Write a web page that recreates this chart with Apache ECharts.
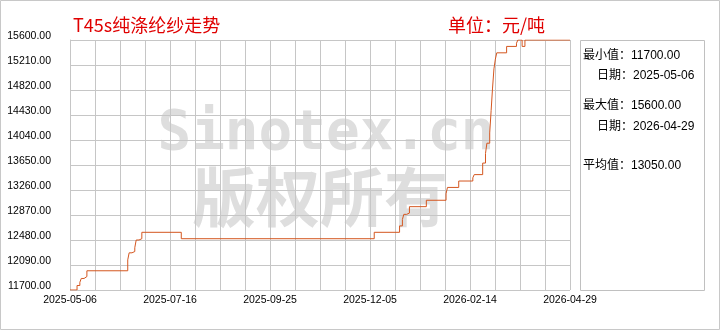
<!DOCTYPE html>
<html><head><meta charset="utf-8">
<script src="https://cdn.jsdelivr.net/npm/echarts@6/dist/echarts.min.js"></script>
<style>html,body{margin:0;padding:0;background:#fff}#c{width:720px;height:330px}</style>
</head><body><div id="c"></div>
<script>
const titleText = 'T45s纯涤纶纱走势';
const unitText = '单位：元/吨';
const startDate = '2025-05-06';
const endDate = '2026-04-29';
const skippedDates = ['2026-02-16', '2026-02-17', '2026-02-18'];
const xLabelDates = ['2025-05-06', '2025-07-16', '2025-09-25', '2025-12-05', '2026-02-14', '2026-04-29'];
const yMin = 11700, yMax = 15600, yStep = 390;
// price change points (date, value in 元/吨)
const changeDates = [
  '2025-05-06', '2025-05-11', '2025-05-13', '2025-05-14', '2025-05-16', '2025-05-18',
  '2025-06-16', '2025-06-17', '2025-06-19', '2025-06-21', '2025-06-22', '2025-06-24', '2025-06-26',
  '2025-07-24',
  '2025-12-08', '2025-12-26', '2025-12-28', '2025-12-29', '2025-12-31', '2026-01-02',
  '2026-01-14', '2026-01-28', '2026-01-29', '2026-02-06', '2026-02-19', '2026-02-20',
  '2026-02-26', '2026-02-28', '2026-03-01', '2026-03-03', '2026-03-04', '2026-03-05', '2026-03-06', '2026-03-07', '2026-03-08',
  '2026-03-15', '2026-03-22', '2026-03-23', '2026-03-26', '2026-03-28', '2026-04-29'
];
const changeValues = [
  11700, 11770, 11820, 11880, 11910, 12000,
  12170, 12280, 12300, 12360, 12480, 12500, 12600,
  12500,
  12600, 12700, 12800, 12880, 12900, 13000,
  13100, 13200, 13300, 13400, 13450, 13500,
  13680, 13830, 13990, 14150, 14500, 14850, 15150, 15300, 15400,
  15500, 15550, 15600, 15500, 15600, 15600
];
const statLines = ['最小值：11700.00', '日期：2025-05-06', '最大值：15600.00', '日期：2026-04-29', '平均值：13050.00'];
const watermarkLatin = 'Sinotex.cn';
const watermarkCJK = '版权所有';

// build daily category list
function fmt(d) { return d.toISOString().slice(0, 10); }
const categories = [];
for (let d = new Date(startDate + 'T00:00:00Z'); fmt(d) <= endDate; d.setUTCDate(d.getUTCDate() + 1)) {
  const s = fmt(d);
  if (!skippedDates.includes(s)) categories.push(s);
}
const valueByDate = {};
changeDates.forEach((d, i) => { valueByDate[d] = changeValues[i]; });
const seriesData = categories.map(d => (d in valueByDate ? valueByDate[d] : null));

const gridColor = '#c6c6c6';
const chart = echarts.init(document.getElementById('c'));
const statY = [56, 76, 106, 127, 166];
const statX = [583, 597, 583, 597, 583];
chart.setOption({
  animation: false,
  backgroundColor: '#fff',
  grid: { left: 70, right: 150, top: 40, bottom: 40 },
  xAxis: [{
    type: 'category', data: categories, boundaryGap: false,
    axisLine: { show: false }, axisTick: { show: false }, splitLine: { show: false },
    axisLabel: {
      interval: (i, v) => xLabelDates.includes(v), margin: 5,
      color: '#000', fontSize: 10.5, fontFamily: 'Liberation Sans'
    }
  }, {
    type: 'value', min: 0, max: 20, interval: 1, position: 'bottom',
    axisLine: { show: false }, axisTick: { show: false }, axisLabel: { show: false },
    splitLine: { show: true, lineStyle: { color: gridColor, width: 1 } }
  }],
  yAxis: {
    type: 'value', min: yMin, max: yMax, interval: yStep,
    axisLine: { show: true, lineStyle: { color: gridColor } },
    axisTick: { show: false },
    splitLine: { show: true, lineStyle: { color: gridColor, width: 1 } },
    axisLabel: {
      formatter: v => v.toFixed(2), color: '#000', fontSize: 10.5,
      fontFamily: 'Liberation Sans', margin: 19, verticalAlign: 'bottom', lineHeight: 8
    }
  },
  series: [{
    type: 'line', xAxisIndex: 0, yAxisIndex: 0, data: seriesData,
    connectNulls: true, step: 'end', showSymbol: false, symbol: 'none',
    lineStyle: { color: '#d4561f', width: 1 }, silent: true, z: 5
  }],
  graphic: [
    { type: 'rect', z: -20, silent: true, shape: { x: 0.5, y: 0.5, width: 719, height: 329 },
      style: { fill: 'none', stroke: '#c8c8c8', lineWidth: 1 } },
    { type: 'text', z: -10, silent: true, style: { text: watermarkLatin, x: 326, y: 134,
      font: 'bold 56px "DejaVu Sans Mono"', fill: '#dedede', textAlign: 'center', textVerticalAlign: 'middle' } },
    { type: 'text', z: -10, silent: true, style: { text: watermarkCJK, x: 320, y: 197,
      font: 'bold 64px "Noto Sans CJK SC"', fill: '#dedede', textAlign: 'center', textVerticalAlign: 'middle' } },
    { type: 'text', silent: true, style: { text: titleText, x: 73, y: 25,
      font: '18px "Noto Sans CJK SC"', fill: '#e00000', textVerticalAlign: 'middle' } },
    { type: 'text', silent: true, style: { text: unitText, x: 448, y: 25,
      font: '18px "Noto Sans CJK SC"', fill: '#e00000', textVerticalAlign: 'middle' } },
    { type: 'rect', silent: true, shape: { x: 580.5, y: 40.5, width: 124, height: 250 },
      style: { fill: 'none', stroke: '#c0c0c0', lineWidth: 1 } }
  ].concat(statLines.map((t, i) => ({
    type: 'text', silent: true, style: { text: t, x: statX[i], y: statY[i],
      font: '12px "Liberation Sans", "Noto Sans CJK SC"', fill: '#000', textVerticalAlign: 'middle' }
  })))
});
</script>
</body></html>
